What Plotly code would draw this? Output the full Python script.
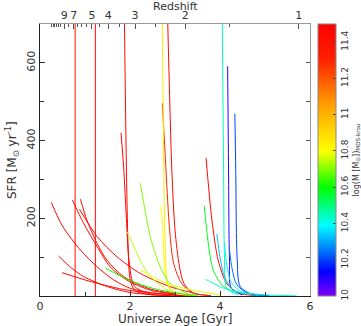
import numpy as np
import plotly.graph_objects as go
from plotly.colors import sample_colorscale

# Masas (log M) y curvas SFR
curve_mass = [11.45, 11.45, 11.45, 11.45, 11.45, 11.45, 11.45, 11.45, 11.45, 11.45,
              11.45, 11.3, 11.45, 10.85, 10.8, 10.7, 10.75, 10.6, 10.78, 10.58,
              10.45, 10.1, 10.2, 10.33, 10.38, 10.25, 10.42]

curve_age = [
    [0.25, 0.5, 0.9, 1.27, 1.63, 2.0, 2.5, 3.0],
    [0.41, 0.7, 0.97, 1.5, 2.0, 2.6, 3.2],
    [0.49, 1.1, 1.85, 2.45, 3.0, 3.5],
    [0.72, 0.97, 1.27, 1.56, 1.93, 2.45, 3.0],
    [0.90, 1.04, 1.27, 1.49, 1.86, 2.45, 3.0],
    [0.88, 1.27, 1.71, 2.23, 2.89, 3.4],
    [0.78, 0.78],
    [1.23, 1.23],
    [1.875, 1.92, 1.96, 2.0, 2.1, 2.4, 2.9],
    [1.80, 1.86, 1.92, 1.98, 2.1, 2.5],
    [2.835, 2.93, 3.0, 3.1, 3.2, 3.4, 3.8],
    [2.72, 2.80, 2.88, 2.97, 3.15, 3.4, 3.8],
    [3.69, 3.82, 3.96, 4.15, 4.4, 4.8],
    [2.715, 2.74, 2.76, 2.79, 2.82, 2.9, 3.1, 3.5],
    [2.69, 2.74, 2.78, 2.9, 3.2],
    [2.23, 2.45, 2.67, 2.89, 3.3],
    [1.94, 2.23, 2.45, 2.9, 3.3],
    [1.45, 2.0, 2.5, 3.0, 3.5],
    [2.23, 2.7, 3.19, 4.0],
    [3.65, 3.74, 3.85, 4.08, 4.5],
    [4.05, 4.08, 4.10, 4.15, 4.4],
    [4.17, 4.19, 4.21, 4.25, 4.5],
    [4.33, 4.35, 4.38, 4.45, 4.7, 5.1],
    [3.93, 4.0, 4.1, 4.3, 4.8],
    [4.10, 4.15, 4.25, 4.5, 5.0],
    [4.21, 4.27, 4.37, 4.6, 5.1],
    [3.68, 4.2, 5.0, 5.7],
]

curve_sfr = [
    [241, 180, 118, 75, 42, 20, 8, 3],
    [103, 72, 50, 24, 9, 3, 1],
    [60, 38, 17, 8, 3, 1],
    [247, 187, 127, 75, 41, 15, 5],
    [249, 196, 135, 92, 50, 18, 6],
    [223, 153, 101, 58, 24, 8],
    [0, 760],
    [0, 760],
    [720, 330, 120, 45, 15, 4, 1],
    [420, 330, 200, 90, 25, 3],
    [720, 324, 170, 75, 32, 8, 1],
    [496, 324, 170, 84, 32, 8, 1],
    [355, 196, 92, 32, 8, 1],
    [720, 450, 250, 100, 40, 18, 6, 1],
    [232, 150, 60, 15, 3],
    [290, 153, 75, 32, 5],
    [165, 92, 50, 12, 3],
    [72, 40, 20, 8, 2],
    [67, 38, 20, 3],
    [232, 135, 67, 24, 5],
    [720, 324, 100, 20, 3],
    [591, 324, 100, 20, 3],
    [469, 324, 100, 24, 5, 1],
    [160, 100, 50, 15, 2],
    [137, 80, 35, 10, 2],
    [120, 70, 30, 8, 1],
    [43, 15, 3, 0.5],
]

# Ticks del eje superior (redshift)
z_major = [9, 7, 5, 4, 3, 2, 1]
z_minor = [15, 14, 13, 12, 11, 10, 8, 6.5, 6, 5.5, 4.5, 3.5, 2.5, 1.5]
cbar_ticks = [10, 10.2, 10.4, 10.6, 10.8, 11, 11.2, 11.4]
cbar_labels = ["10", "10.2", "10.4", "10.6", "10.8", "11", "11.2", "11.4"]

mass_min, mass_max = 10.0, 11.5

rainbow = [[0.0, "#8000ff"], [0.09, "#0000ff"], [0.2, "#00a8ff"], [0.26, "#00ffff"],
           [0.4, "#00ff00"], [0.533, "#ffff00"], [0.7, "#ffa000"], [0.87, "#ff2000"],
           [1.0, "#ff0000"]]


# Edad del universo (Gyr) para un redshift, H0=70, Om=0.3
def age_at_z(z, h0=70.0, om=0.3):
    ol = 1 - om
    th = 977.8 / h0
    return 2 * th / (3 * np.sqrt(ol)) * np.arcsinh(np.sqrt(ol / om) * (1 + np.array(z)) ** -1.5)


fig = go.Figure()

for m, a, s in zip(curve_mass, curve_age, curve_sfr):
    col = sample_colorscale(rainbow, [(m - mass_min) / (mass_max - mass_min)])[0]
    fig.add_trace(go.Scatter(x=a, y=s, mode='lines', line=dict(color=col, width=1, shape='spline', smoothing=0.8),
                             showlegend=False, hoverinfo='skip'))

# Barra de color
fig.add_trace(go.Scatter(x=[None], y=[None], mode='markers', showlegend=False,
                         marker=dict(color=[mass_min], cmin=mass_min, cmax=mass_max, colorscale=rainbow,
                                     showscale=True,
                                     colorbar=dict(x=1.03, xanchor='left', y=0.5, yanchor='middle', len=1,
                                                   thickness=18, xpad=0, ypad=0, outlinecolor='#888',
                                                   outlinewidth=1, tickvals=cbar_ticks, ticktext=cbar_labels,
                                                   tickangle=-90, ticks='inside', ticklen=3, tickcolor='#444',
                                                   tickfont=dict(size=9),
                                                   title=dict(text="log(M [M<sub>⊙</sub>])<sub>MDS-krou</sub>",
                                                              side='right', font=dict(size=8))))))

# Ejes superior (redshift) y derecho
fig.add_trace(go.Scatter(x=[None], y=[None], xaxis='x2', showlegend=False))
fig.add_trace(go.Scatter(x=[None], y=[None], yaxis='y2', showlegend=False))

fig.update_layout(
    width=361, height=326,
    margin=dict(l=40, r=51, t=24, b=30, autoexpand=False),
    plot_bgcolor='white', paper_bgcolor='white',
    font=dict(family='DejaVu Sans', size=12, color='#333'),
    xaxis=dict(range=[0, 6], tickvals=[0, 2, 4, 6], ticks='inside', ticklen=5, tickcolor='#333',
               tickfont=dict(size=11),
               minor=dict(tickvals=[1, 3, 5], ticks='inside', ticklen=4, tickcolor='#333'),
               showline=True, linecolor='#222', linewidth=1, showgrid=False, zeroline=False),
    yaxis=dict(range=[0, 700], tickvals=[200, 400, 600], ticks='inside', ticklen=5, tickcolor='#333',
               tickfont=dict(size=11),
               minor=dict(tickvals=[100, 300, 500], ticks='inside', ticklen=4, tickcolor='#333'),
               tickangle=-90, showline=True, linecolor='#222', linewidth=1, showgrid=False, zeroline=False),
    xaxis2=dict(range=[0, 6], overlaying='x', side='top', tickvals=list(age_at_z(z_major)),
                ticktext=[str(z) for z in z_major], tickangle=0, tickfont=dict(size=11),
                ticks='inside', ticklen=5, tickcolor='#555',
                minor=dict(tickvals=list(age_at_z(z_minor)), ticks='inside', ticklen=3, tickcolor='#555'),
                showline=True, linecolor='#999', linewidth=1, showgrid=False, zeroline=False),
    yaxis2=dict(range=[0, 700], overlaying='y', side='right', tickvals=[100, 200, 300, 400, 500, 600],
                ticks='inside', ticklen=4, tickcolor='#555', showticklabels=False,
                showline=True, linecolor='#999', linewidth=1, showgrid=False, zeroline=False),
    annotations=[
        dict(text='Redshift', xref='paper', yref='paper', x=0.5, y=1, yanchor='middle', yshift=18,
             showarrow=False, font=dict(size=11)),
        dict(text='Universe Age [Gyr]', xref='paper', yref='paper', x=0.5, y=0, yanchor='middle', yshift=-23,
             showarrow=False, font=dict(size=12)),
        dict(text='SFR [M<sub>⊙</sub> yr<sup>-1</sup>]', xref='paper', yref='paper', x=0, xanchor='center',
             xshift=-28, y=0.5, yanchor='middle', textangle=-90, showarrow=False, font=dict(size=12)),
    ],
)

fig.write_html("out.html", config={'displayModeBar': False},
               post_script="document.body.style.margin='0';")
